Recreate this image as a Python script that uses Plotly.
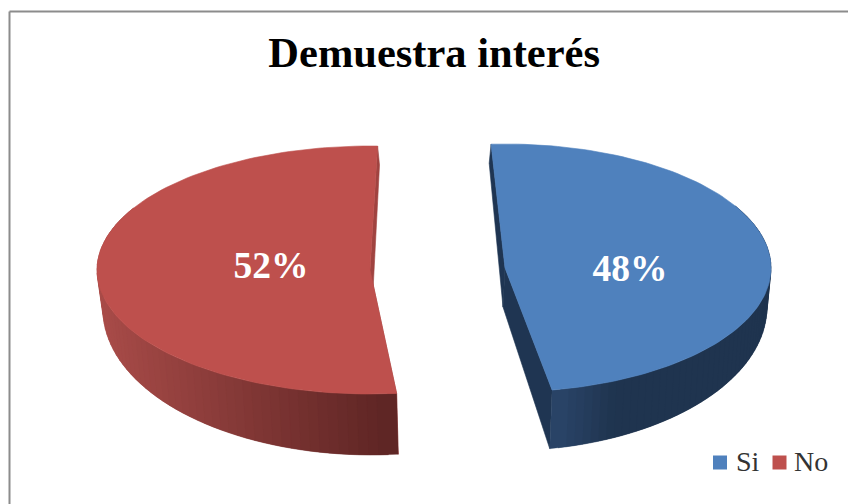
import math
import plotly.graph_objects as go

# Values of the chart
categories = ['Si', 'No']
values = [48, 52]
title_text = 'Demuestra interés'

colors = {'Si': '#4F81BD', 'No': '#BE504D'}
inner_wall = {'Si': '#1F3552', 'No': '#A04340'}
wall_left = {'Si': (42, 68, 104), 'No': (170, 76, 73)}
wall_right = {'Si': (31, 52, 79), 'No': (94, 37, 36)}
# how far across the wall the shading runs (1 = whole wedge)
wall_fade = {'Si': 0.25, 'No': 1.0}

# Each exploded slice: start angle (clockwise from top), top and bottom ellipse
geom = {
    'Si': dict(start=-3.0, top=(505, 268, 266, 124), low=(503, 307, 264, 144)),
    'No': dict(start=174.4, top=(370, 270, 273, 124), low=(372, 310, 269, 145)),
}
label_pos = {'Si': (630, 272), 'No': (271, 269)}
# legend key and text places
key_pos = {'Si': (720, 462.5), 'No': (779.5, 462.5)}
key_text_x = {'Si': 735, 'No': 793}


def pt(ell, ang):
    cx, cy, rx, ry = ell
    t = math.radians(ang)
    return cx + rx * math.sin(t), cy - ry * math.cos(t)


def arc(ell, a0, a1, n=120):
    pts = [pt(ell, a0 + (a1 - a0) * i / n) for i in range(n + 1)]
    return [p[0] for p in pts], [p[1] for p in pts]


def poly(xs, ys, color, width=0.6):
    return go.Scatter(x=xs + xs[:1], y=ys + ys[:1], mode='lines', fill='toself', fillcolor=color,
                      line=dict(color=color, width=width), hoverinfo='skip', showlegend=False)


fig = go.Figure()
total = sum(values)

for cat, val in zip(categories, values):
    g = geom[cat]
    a0 = g['start']
    a1 = a0 + val / total * 360
    top, low = g['top'], g['low']

    # inner cut walls
    for ang in (a0, a1):
        p1, p2 = pt(top, ang), pt(low, ang)
        fig.add_trace(poly([p1[0], top[0], low[0], p2[0]], [p1[1], top[1], low[1], p2[1]], inner_wall[cat]))

    # outer wall in strips, only the front half shows
    lo = max(a0, 60) if cat == 'Si' else a0
    hi = a1 if cat == 'Si' else min(a1, 300)
    n = 60
    step = (hi - lo) / n
    x_edges = [pt(top, lo + step * i)[0] for i in range(n + 1)]
    xmin, xmax = min(x_edges), max(x_edges)
    # strips overlap the next one so no seams show
    order = range(n) if cat == 'Si' else range(n - 1, -1, -1)
    for i in order:
        s0 = lo + step * i
        s1 = s0 + step
        mid = pt(top, (s0 + s1) / 2)[0]
        if cat == 'Si':
            s0 = s0 - step if i > 0 else s0
        else:
            s1 = s1 + step if i < n - 1 else s1
        tx, ty = arc(top, s0, s1, 6)
        bx, by = arc(low, s1, s0, 6)
        f = (mid - xmin) / (xmax - xmin)
        f = min(f / wall_fade[cat], 1)
        c = [round(wall_left[cat][k] + (wall_right[cat][k] - wall_left[cat][k]) * f) for k in range(3)]
        fig.add_trace(poly(tx + bx, ty + by, 'rgb(%d,%d,%d)' % tuple(c), width=0.3))

    # top face
    ax, ay = arc(top, a0, a1)
    fig.add_trace(poly(ax + [top[0]], ay + [top[1]], colors[cat]))

# percentage labels
for cat, val in zip(categories, values):
    lx, ly = label_pos[cat]
    fig.add_trace(go.Scatter(x=[lx], y=[ly], mode='text', text=['%d%%' % round(val / total * 100)],
                             textposition='middle center', hoverinfo='skip', showlegend=False,
                             textfont=dict(family='Liberation Serif', size=37.5, color='white', weight='bold')))

# legend keys, placed by hand because the built-in legend spacing is too wide here
for cat in categories:
    kx, ky = key_pos[cat]
    fig.add_trace(go.Scatter(x=[kx], y=[ky], mode='markers', name=cat, showlegend=False, hoverinfo='skip',
                             marker=dict(symbol='square', size=14, color=colors[cat])))
    fig.add_annotation(x=key_text_x[cat], y=ky - 1, text=cat, showarrow=False, xanchor='left', yanchor='middle',
                       xshift=0, borderpad=0, font=dict(family='Liberation Serif', size=28, color='#333333'))

fig.update_layout(
    width=848, height=504, margin=dict(l=0, r=0, t=0, b=0),
    paper_bgcolor='white', plot_bgcolor='white', showlegend=False,
    xaxis=dict(range=[0, 848], visible=False, fixedrange=True),
    yaxis=dict(range=[504, 0], visible=False, fixedrange=True),
    title=dict(text='<b>' + title_text + '</b>', x=0.512, xanchor='center', y=0.897, yanchor='middle',
               font=dict(family='Liberation Serif', size=42.5, color='black')),
    shapes=[
        dict(type='line', xref='x', yref='y', x0=9.5, x1=848, y0=11.5, y1=11.5, line=dict(color='#8C8C8C', width=2)),
        dict(type='line', xref='x', yref='y', x0=9.5, x1=9.5, y0=11.5, y1=504, line=dict(color='#8C8C8C', width=2)),
    ],
)

# drop the default page margin so the 848x504 figure fills the window
fig.write_html('out.html', config={'displayModeBar': False}, post_script='document.body.style.margin="0";')
